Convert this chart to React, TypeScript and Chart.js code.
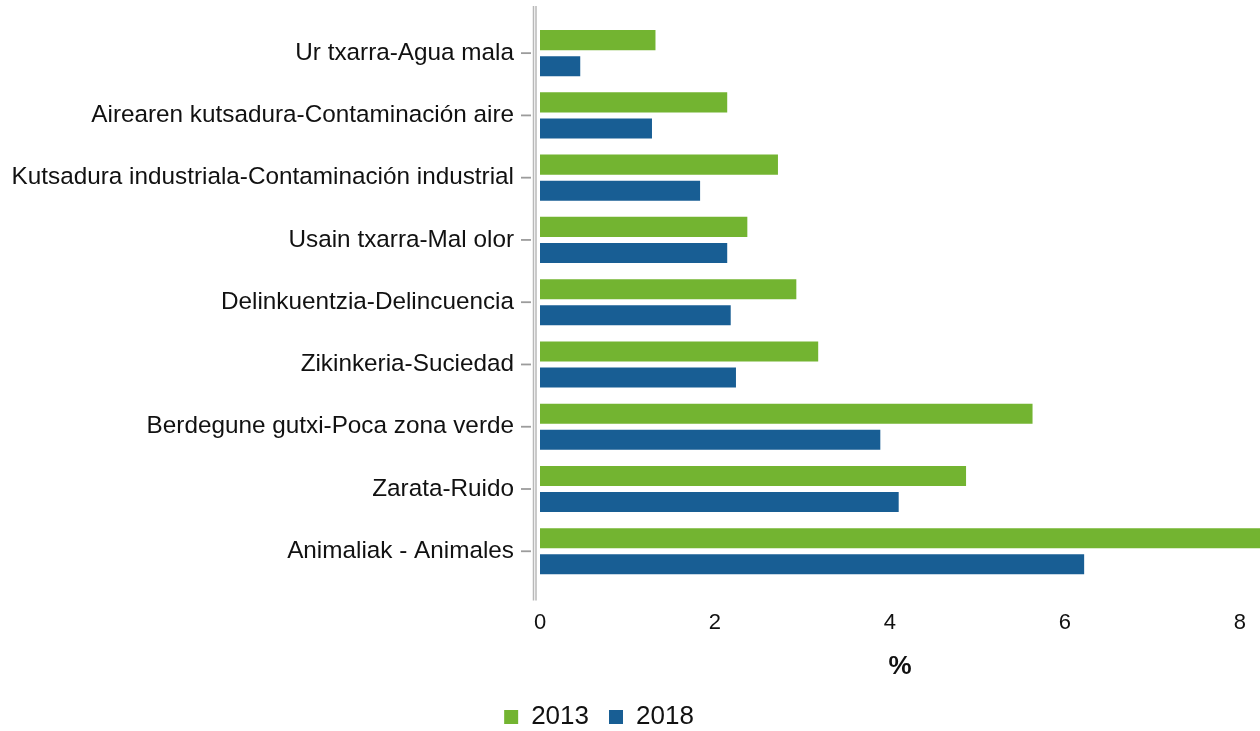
import React, { useEffect, useRef } from "react";
import { Chart, registerables } from "chart.js";

Chart.register(...registerables);

const categories = [
  "Ur txarra-Agua mala",
  "Airearen kutsadura-Contaminación aire",
  "Kutsadura industriala-Contaminación industrial",
  "Usain txarra-Mal olor",
  "Delinkuentzia-Delincuencia",
  "Zikinkeria-Suciedad",
  "Berdegune gutxi-Poca zona verde",
  "Zarata-Ruido",
  "Animaliak - Animales",
];
const values2013 = [1.32, 2.14, 2.72, 2.37, 2.93, 3.18, 5.63, 4.87, 8.5];
const values2018 = [0.46, 1.28, 1.83, 2.14, 2.18, 2.24, 3.89, 4.1, 6.22];
const seriesNames = ["2013", "2018"];
const xTickValues = [0, 2, 4, 6, 8];
const xTitle = "%";

const GREEN = "#73b431";
const BLUE = "#185e94";
const FONT = "'Liberation Sans', Arial, sans-serif";

const axisPlugin = {
  id: "doubleAxis",
  beforeDatasetsDraw(chart: any) {
    const { ctx, chartArea, scales } = chart;
    const y = scales.y;
    ctx.save();
    ctx.strokeStyle = "#b8b8b8";
    ctx.lineWidth = 1.5;
    for (const dx of [-6.5, -4]) {
      ctx.beginPath();
      ctx.moveTo(chartArea.left + dx, chartArea.top - 16);
      ctx.lineTo(chartArea.left + dx, chartArea.bottom + 18);
      ctx.stroke();
    }
    ctx.strokeStyle = "#9c9c9c";
    ctx.lineWidth = 1.8;
    for (let i = 0; i < y.ticks.length; i++) {
      const py = y.getPixelForTick(i);
      ctx.beginPath();
      ctx.moveTo(chartArea.left - 19, py);
      ctx.lineTo(chartArea.left - 9, py);
      ctx.stroke();
    }
    ctx.restore();
  },
};

const legendShift = {
  id: "legendShift",
  afterLayout(chart: any) {
    const l = chart.legend;
    if (l) {
      l.left -= 31;
      l.right -= 31;
    }
  },
};

export default function App() {
  const ref = useRef<HTMLCanvasElement | null>(null);
  useEffect(() => {
    if (!ref.current) return;
    const chart = new Chart(ref.current, {
      type: "bar",
      data: {
        labels: categories,
        datasets: [
          {
            label: seriesNames[0],
            data: values2013,
            backgroundColor: GREEN,
            borderWidth: 0,
            barPercentage: 0.77,
            categoryPercentage: 0.837,
          },
          {
            label: seriesNames[1],
            data: values2018,
            backgroundColor: BLUE,
            borderWidth: 0,
            barPercentage: 0.77,
            categoryPercentage: 0.837,
          },
        ],
      },
      options: {
        indexAxis: "y",
        animation: false,
        responsive: false,
        maintainAspectRatio: false,
        layout: { padding: { top: 22, bottom: -9, left: 0, right: 0 } },
        scales: {
          x: {
            min: 0,
            max: 8.23,
            afterBuildTicks(scale: any) {
              scale.ticks = xTickValues.map((v) => ({ value: v }));
            },
            afterFit(scale: any) {
              scale.paddingLeft = 0;
              scale.paddingRight = 0;
            },
            grid: { display: false, drawTicks: false },
            border: { display: false },
            ticks: {
              padding: 27,
              color: "#111",
              font: { family: FONT, size: 22 },
            },
            title: {
              display: true,
              text: xTitle,
              color: "#111",
              font: { family: FONT, size: 26, weight: "bold" },
              padding: { top: -12, bottom: 2 },
            },
          },
          y: {
            grid: { display: false, drawTicks: false, offset: false },
            border: { display: false },
            afterFit(scale: any) {
              scale.width = 540;
              scale.paddingTop = 0;
              scale.paddingBottom = 0;
            },
            ticks: {
              padding: 26,
              color: "#111",
              font: { family: FONT, size: 24.3 },
            },
          },
        },
        plugins: {
          legend: {
            position: "bottom",
            labels: {
              boxWidth: 14,
              boxHeight: 14,
              padding: 20,
              color: "#111",
              font: { family: FONT, size: 26 },
            },
          },
          tooltip: { enabled: false },
        },
      },
      plugins: [axisPlugin, legendShift],
    });
    return () => chart.destroy();
  }, []);
  return (
    <div style={{ position: "absolute", left: 0, top: 0, width: 1260, height: 731, background: "#fff" }}>
      <canvas ref={ref} width={1260} height={731} style={{ display: "block" }} />
    </div>
  );
}
